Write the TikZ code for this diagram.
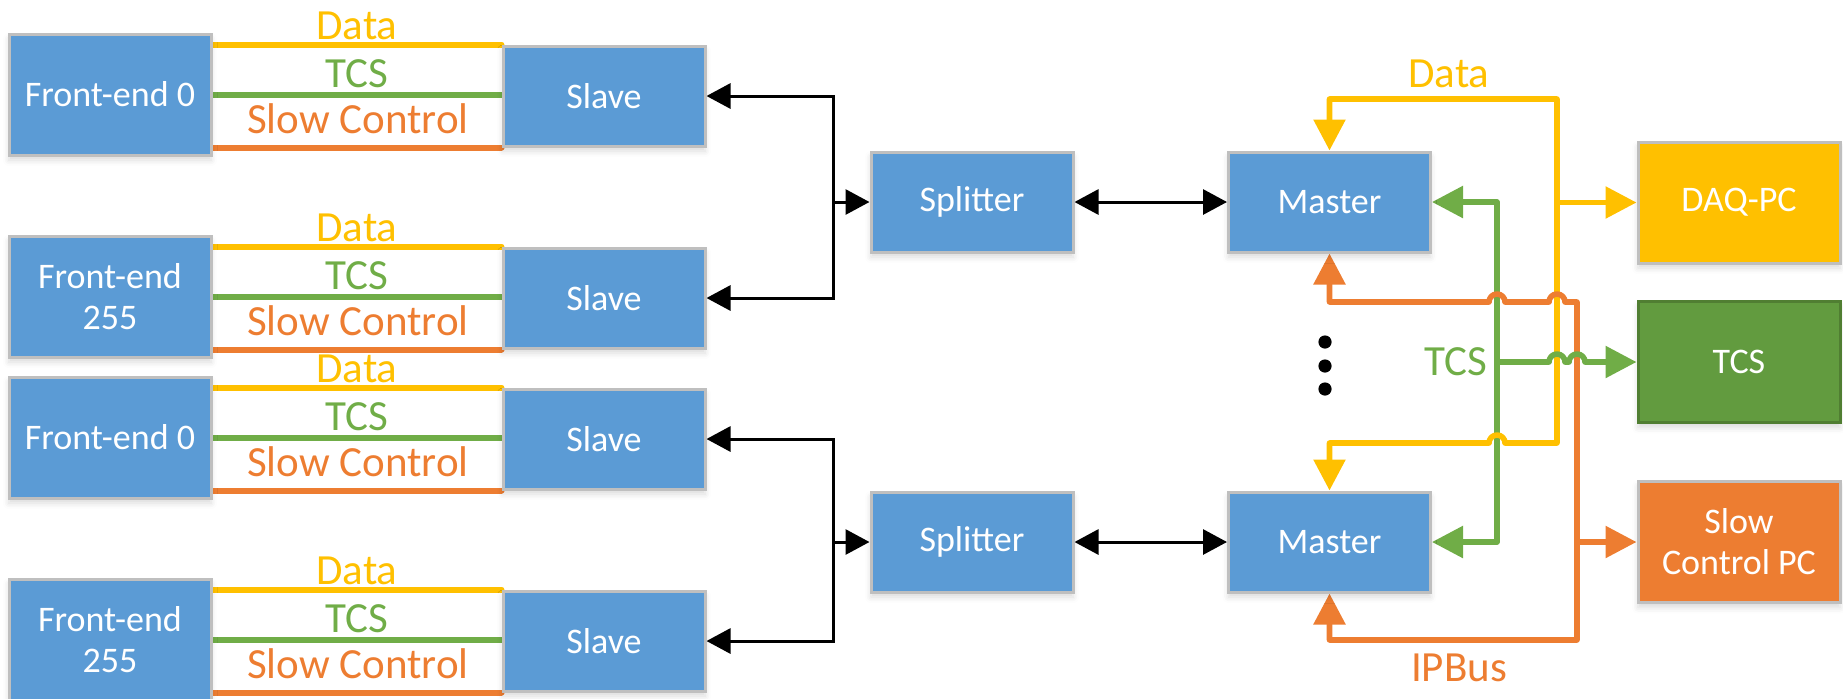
\documentclass[tikz,border=0pt]{standalone}
\usepackage{fontspec}
\setmainfont{Carlito}
\usetikzlibrary{arrows.meta,shadows.blur}
\pgfdeclarelayer{bg}
\pgfsetlayers{bg,main}

\definecolor{cBlue}{HTML}{5B9BD5}
\definecolor{cFrame}{HTML}{BFBFBF}
\definecolor{cYel}{HTML}{FFC000}
\definecolor{cGrn}{HTML}{70AD47}
\definecolor{cGrnBox}{HTML}{629B3F}
\definecolor{cGrnEdge}{HTML}{507E32}
\definecolor{cOra}{HTML}{ED7D31}

\newcommand\bxfont{\fontsize{18}{20.5}\selectfont}
\newcommand\lbfont{\fontsize{21.5}{24}\selectfont}

\begin{document}
\begin{tikzpicture}[x=0.5pt,y=-0.5pt,
  box/.style={draw=cFrame, fill=cBlue, line width=1.5pt,
    minimum width=101pt, minimum height=50pt, inner sep=0pt,
    text=white, font=\bxfont, align=center,
    blur shadow={shadow xshift=0pt, shadow yshift=-2.5pt,
      shadow opacity=15, shadow blur radius=3pt}},
  tallbox/.style={box, minimum height=60.5pt},
  lbl/.style={font=\lbfont, anchor=base, inner sep=0pt},
  sig/.style={line width=3pt, line cap=round},
  busline/.style={line width=2.8pt, line cap=round, line join=round},
  blk/.style={line width=1.5pt},
  blkarrow/.style={-{Triangle[length=12pt,width=12.5pt]}},
  blkboth/.style={{Triangle[length=12pt,width=12.5pt]}-{Triangle[length=12pt,width=12.5pt]}},
  colarrow/.style={-{Triangle[length=15.5pt,width=15.5pt]}},
  colboth/.style={{Triangle[length=15.5pt,width=15.5pt]}-{Triangle[length=15.5pt,width=15.5pt]}},
]
\useasboundingbox (0,0) rectangle (1843,698);

% front-end boards
\node[tallbox] (fe1) at (110,94.5)  {Front-end 0};
\node[tallbox] (fe2) at (110,296.5) {Front-end\\255};
\node[tallbox] (fe3) at (110,437.5) {Front-end 0};
\node[tallbox] (fe4) at (110,639.5) {Front-end\\255};

% slave boards
\node[box] (sl1) at (604,96)  {Slave};
\node[box] (sl2) at (604,298) {Slave};
\node[box] (sl3) at (604,439) {Slave};
\node[box] (sl4) at (604,641) {Slave};

% splitters and masters
\node[box] (sp1) at (972,202) {Splitter};
\node[box] (sp2) at (972,542) {Splitter};
\node[box] (ms1) at (1329.5,202) {Master};
\node[box] (ms2) at (1329.5,542) {Master};

% back-end systems
\node[tallbox, fill=cYel] (daq) at (1739,202.5) {DAQ-PC};
\node[tallbox, fill=cGrnBox, draw=cGrnEdge] (tcs) at (1739,362) {TCS};
\node[tallbox, fill=cOra] (scpc) at (1739,542) {Slow\\Control PC};

% front-end to slave links
\begin{pgfonlayer}{bg}
\foreach \i in {1,...,4} {
  \draw[sig, cYel] (fe\i.east |- sl\i.north west) -- (sl\i.north west);
  \draw[sig, cGrn] (fe\i.east) -- (fe\i.east -| sl\i.west);
  \draw[sig, cOra] (fe\i.east |- sl\i.south west) -- (sl\i.south west);
}
\end{pgfonlayer}
\foreach \t/\n in {34/1, 236/2, 377/3, 579/4} {
  \node[lbl, text=cYel] (lblD\n) at (357,\t+5)  {Data};
  \node[lbl, text=cGrn] (lblT\n) at (357,\t+53) {TCS};
  \node[lbl, text=cOra] (lblS\n) at (358,\t+99) {Slow Control};
}

% slave - splitter - master links
\coordinate (bX) at (833,0);
\begin{pgfonlayer}{bg}
\draw[blk, blkarrow] (sp1.west -| bX) |- (sl1.east);
\draw[blk, blkarrow] (sp1.west -| bX) |- (sl2.east);
\draw[blk, blkarrow] (sp1.west -| bX) -- (sp1.west);
\draw[blk, blkboth] (sp1.east) -- (ms1.west);
\draw[blk, blkarrow] (sp2.west -| bX) |- (sl3.east);
\draw[blk, blkarrow] (sp2.west -| bX) |- (sl4.east);
\draw[blk, blkarrow] (sp2.west -| bX) -- (sp2.west);
\draw[blk, blkboth] (sp2.east) -- (ms2.west);
\end{pgfonlayer}

% master to back-end buses
\coordinate (gX) at (1497,0);
\coordinate (yX) at (1557,0);
\coordinate (oX) at (1577,0);
\coordinate (yTop) at (1557,99);
\coordinate (yBot) at (1557,443);
\coordinate (oTop) at (1577,302);
\coordinate (oBot) at (1577,640);

\begin{pgfonlayer}{bg}
% TCS bus
\draw[busline, cGrn, colboth] (ms1.east) -- (ms1.east -| gX) -- (ms2.east -| gX) -- (ms2.east);
% data bus
\draw[busline, cYel, colboth] (ms1.north) -- (ms1.north |- yTop) -- (yTop) -- (yBot)
  -- (1505,443) arc[start angle=0, end angle=180, radius=4pt]
  -- (ms2.north |- yBot) -- (ms2.north);
\draw[busline, cYel, colarrow] (daq.west -| yX) -- (daq.west);
% slow control bus
\draw[busline, cOra, colboth] (ms1.south) -- (ms1.south |- oTop)
  -- (1489,302) arc[start angle=180, end angle=0, radius=4pt]
  -- (1549,302) arc[start angle=180, end angle=0, radius=4pt]
  -- (oTop) -- (oBot) -- (ms2.south |- oBot) -- (ms2.south);
\draw[busline, cOra, colarrow] (scpc.west -| oX) -- (scpc.west);
% TCS branch
\draw[busline, cGrn, colarrow] (tcs.west -| gX)
  -- (1549,362) arc[start angle=180, end angle=0, radius=4pt]
  -- (1569,362) arc[start angle=180, end angle=0, radius=4pt]
  -- (tcs.west);
\end{pgfonlayer}

\node[lbl, text=cYel] (lblDataR) at (1449,87) {Data};
\node[lbl, text=cGrn, anchor=base east] (lblTcsR) at (1488,375) {TCS};
\node[lbl, text=cOra] (lblIPBus) at (1459,681) {IPBus};

% vertical ellipsis between the master groups
\foreach \yy in {342,366,389}
  \fill (1325,\yy) circle[radius=3.3pt];

\end{tikzpicture}
\end{document}
